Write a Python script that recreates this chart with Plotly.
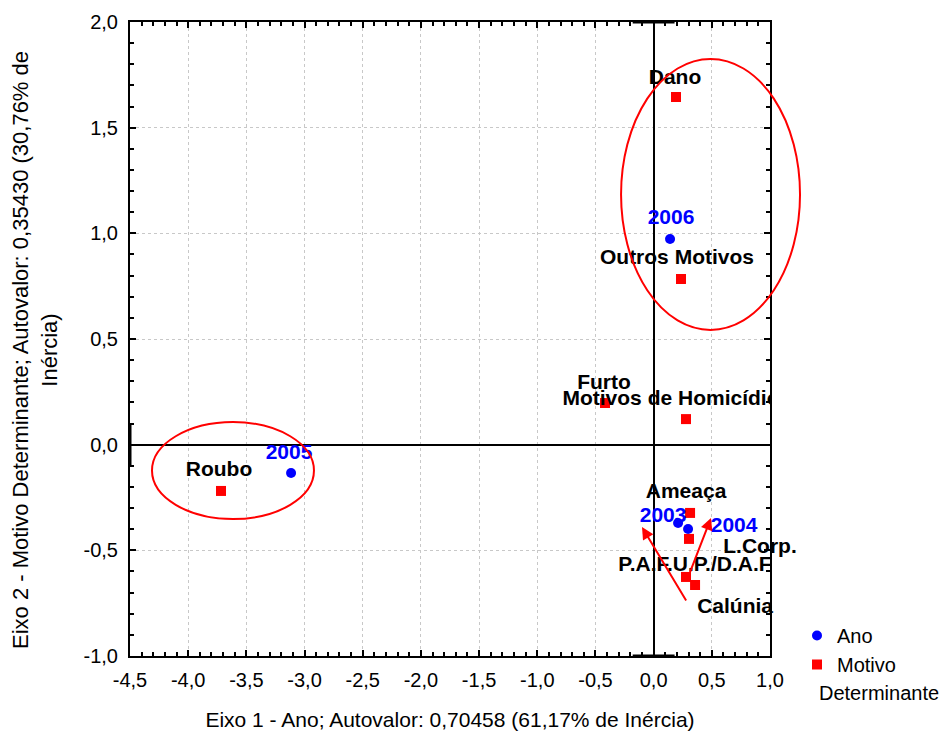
import plotly.graph_objects as go

# ---------------- data ----------------
anos = ["2003", "2004", "2005", "2006"]
ano_x = [0.210, 0.296, -3.116, 0.141]
ano_y = [-0.371, -0.399, -0.134, 0.973]

motivos = ["Dano", "Outros Motivos", "Furto", "Motivos de Homicídio", "Roubo",
           "Ameaça", "L.Corp.", "P.A.F.U.P./D.A.F", "Calúnia"]
mot_x = [0.192, 0.235, -0.418, 0.278, -3.718, 0.313, 0.304, 0.278, 0.356]
mot_y = [1.645, 0.784, 0.197, 0.121, -0.219, -0.323, -0.446, -0.626, -0.664]

x_ticks = [-4.5, -4.0, -3.5, -3.0, -2.5, -2.0, -1.5, -1.0, -0.5, 0.0, 0.5, 1.0]
x_tick_labels = ["-4,5", "-4,0", "-3,5", "-3,0", "-2,5", "-2,0", "-1,5", "-1,0",
                 "-0,5", "0,0", "0,5", "1,0"]
y_ticks = [-1.0, -0.5, 0.0, 0.5, 1.0, 1.5, 2.0]
y_tick_labels = ["-1,0", "-0,5", "0,0", "0,5", "1,0", "1,5", "2,0"]

x_title = "Eixo 1 - Ano; Autovalor: 0,70458 (61,17% de Inércia)"
y_title = "Eixo 2 - Motivo Determinante; Autovalor: 0,35430 (30,76% de<br>Inércia)"

# ---------------- styles / layout helpers ----------------
OFF = 8                      # page body margin of the browser
W, H = 949 - OFF, 731 - OFF
ML, MT = 130 - OFF, 22 - OFF
PW, PH = 640, 634
MR, MB = W - ML - PW, H - MT - PH
XR = [-4.5, 1.0]
YR = [-1.0, 2.0]
sx = (XR[1] - XR[0]) / PW
sy = (YR[1] - YR[0]) / PH

# label offsets in pixels (dx right, dy down) and whether clipped by the plot area
ano_off = [(-15, -6), (46, -2), (-2, -19), (1, -20)]
mot_off = [(-1, -18), (-4, -20), (-1, -19), (-15, -19), (-2, -20),
           (-4, -20), (71, 9), (9, -11), (40, 23)]
mot_clip = [True, True, True, True, True, True, False, True, False]

RED = "#ff0000"
BLUE = "#0000ff"
FONT = "Arial, 'Liberation Sans', sans-serif"

fig = go.Figure()

fig.add_trace(go.Scatter(x=ano_x, y=ano_y, mode="markers", name="Ano",
                         marker=dict(symbol="circle", size=10, color=BLUE),
                         cliponaxis=False))
fig.add_trace(go.Scatter(x=mot_x, y=mot_y, mode="markers", name="Motivo",
                         marker=dict(symbol="square", size=10, color=RED),
                         cliponaxis=False))


def lab(xs, ys, offs):
    return ([x + o[0] * sx for x, o in zip(xs, offs)],
            [y - o[1] * sy for y, o in zip(ys, offs)])


lx, ly = lab(ano_x, ano_y, ano_off)
fig.add_trace(go.Scatter(x=lx, y=ly, mode="text", text=anos, showlegend=False,
                         textposition="middle center", hoverinfo="skip",
                         textfont=dict(family=FONT, size=21, color=BLUE, weight="bold"),
                         cliponaxis=True))
mx, my = lab(mot_x, mot_y, mot_off)
for clip in (True, False):
    idx = [i for i, c in enumerate(mot_clip) if c == clip]
    fig.add_trace(go.Scatter(x=[mx[i] for i in idx], y=[my[i] for i in idx],
                             mode="text", text=[motivos[i] for i in idx],
                             showlegend=False, textposition="middle center",
                             hoverinfo="skip",
                             textfont=dict(family=FONT, size=21, color="black", weight="bold"),
                             cliponaxis=clip))


def px_x(v):
    return (v - XR[0]) / (XR[1] - XR[0])


def px_y(v):
    return (v - YR[0]) / (YR[1] - YR[0])


# ellipses (grouping)
ellipses = [(-4.311, -2.919, -0.352, 0.107), (-0.280, 1.258, 0.543, 1.825)]
for x0, x1, y0, y1 in ellipses:
    fig.add_shape(type="circle", xref="paper", yref="paper",
                  x0=px_x(x0), x1=px_x(x1), y0=px_y(y0), y1=px_y(y1),
                  line=dict(color=RED, width=2), layer="above")

# end caps of the zero lines
fig.add_shape(type="line", xref="x", yref="y", x0=-0.18, x1=0.18, y0=2.0, y1=2.0,
              line=dict(color="black", width=3))
fig.add_shape(type="line", xref="x", yref="y", x0=-0.18, x1=0.18, y0=-1.0, y1=-1.0,
              line=dict(color="black", width=3))
fig.add_shape(type="line", xref="x", yref="y", x0=-4.5, x1=-4.5, y0=-0.1, y1=0.1,
              line=dict(color="black", width=3))

# arrows
arrows = [((-0.100, -0.390), (0.287, -0.745)), ((0.493, -0.347), (0.287, -0.640))]
for (hx, hy), (tx, ty) in arrows:
    fig.add_annotation(x=hx, y=hy, ax=tx, ay=ty, xref="x", yref="y", axref="x", ayref="y",
                       text="", showarrow=True, arrowhead=2, arrowsize=1.2,
                       arrowwidth=2, arrowcolor=RED)

# second line of the legend text
fig.add_annotation(text="Determinante", xref="paper", yref="paper",
                   x=(817 - OFF - ML) / PW, y=(MT + PH - (693 - OFF)) / PH, xanchor="left",
                   yanchor="middle", showarrow=False,
                   font=dict(family=FONT, size=20, color="black"))

# y-axis title (rotated, two lines)
fig.add_annotation(text=y_title, xref="paper", yref="paper",
                   x=(35 - OFF - ML) / PW, y=(MT + PH - (350 - OFF)) / PH,
                   xanchor="center", yanchor="middle", textangle=-90, showarrow=False,
                   font=dict(family=FONT, size=22, color="black"))

axis_common = dict(
    showline=True, linecolor="black", linewidth=2, mirror="ticks",
    ticks="inside", ticklen=6, tickwidth=1.5, tickcolor="black",
    minor=dict(ticks="inside", ticklen=4, tickwidth=1.5, tickcolor="black", dtick=0.1,
               showgrid=False),
    showgrid=True, gridcolor="#c8c8c8", griddash="dot", gridwidth=1,
    zeroline=True, zerolinecolor="black", zerolinewidth=2,
    tickfont=dict(family=FONT, size=20, color="black"),
)

fig.update_xaxes(range=XR, tickmode="array", tickvals=x_ticks, ticktext=x_tick_labels,
                 ticklabelstandoff=5, **axis_common,
                 title=dict(text=x_title, font=dict(family=FONT, size=21, color="black"),
                            standoff=22))
fig.update_yaxes(range=YR, tickmode="array", tickvals=y_ticks, ticktext=y_tick_labels,
                 ticklabelstandoff=6, **axis_common)

fig.update_layout(
    width=W, height=H,
    margin=dict(l=ML, r=MR, t=MT, b=MB, autoexpand=False),
    plot_bgcolor="white", paper_bgcolor="white",
    font=dict(family=FONT, color="black"),
    showlegend=True,
    legend=dict(x=(797 - OFF - ML) / PW, y=(MT + PH - (616 - OFF)) / PH,
                xanchor="left", yanchor="top", tracegroupgap=0,
                font=dict(family=FONT, size=20, color="black"),
                bgcolor="rgba(0,0,0,0)", itemwidth=30),
)

fig.write_html("out.html")
